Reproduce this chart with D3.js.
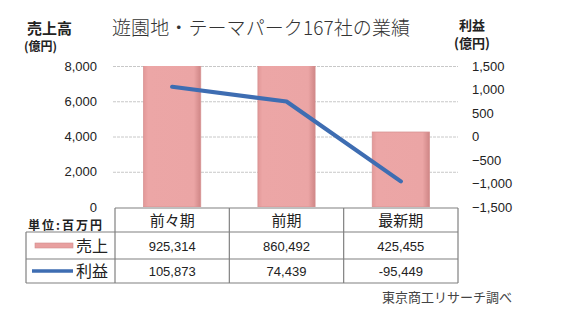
<!DOCTYPE html>
<html><head><meta charset="utf-8">
<script src="https://cdn.jsdelivr.net/npm/d3@7"></script>
<style>
body{margin:0;background:#fff;}
text{font-family:"Noto Sans CJK JP","Noto Sans",sans-serif;}
</style></head>
<body><svg id="c" width="562" height="336"></svg>
<script>
// ---- data ----
const title = "遊園地・テーマパーク167社の業績";
const categories = ["前々期", "前期", "最新期"];
const salesMillion = [925314, 860492, 425455];   // 百万円
const profitMillion = [105873, 74439, -95449];   // 百万円
const leftTicks = [0, 2000, 4000, 6000, 8000];
const rightTicks = [-1500, -1000, -500, 0, 500, 1000, 1500];
const seriesNames = ["売上", "利益"];
const unitLabel = "単位:百万円";
const sourceLabel = "東京商工リサーチ調べ";

const svg = d3.select("#c");
const X0 = 115, X1 = 458, Y0 = 207, Y1 = 66;

const x = d3.scaleBand().domain(categories).range([X0, X1]).paddingInner(0.5).paddingOuter(0.25);
const yL = d3.scaleLinear().domain([0, 8000]).range([Y0, Y1]);
const yR = d3.scaleLinear().domain([-1500, 1500]).range([Y0, Y1]);

const defs = svg.append("defs");
defs.append("clipPath").attr("id", "plot").append("rect")
  .attr("x", X0 - 5).attr("y", Y1).attr("width", X1 - X0 + 10).attr("height", Y0 - Y1);
const g1 = defs.append("linearGradient").attr("id", "barg").attr("x1", 0).attr("x2", 1).attr("y1", 0).attr("y2", 0);
g1.append("stop").attr("offset", "0%").attr("stop-color", "#e29898");
g1.append("stop").attr("offset", "8%").attr("stop-color", "#eca6a6");
g1.append("stop").attr("offset", "88%").attr("stop-color", "#eba5a5");
g1.append("stop").attr("offset", "100%").attr("stop-color", "#cf8686");

// gridlines
svg.append("g").selectAll("line").data(leftTicks.filter(d => d > 0)).join("line")
  .attr("x1", X0 - 2).attr("x2", X1).attr("y1", d => yL(d) + 0.5).attr("y2", d => yL(d) + 0.5)
  .attr("stroke", "#c8c8c8").attr("stroke-width", 1).attr("stroke-dasharray", "3,1");

// bars
svg.append("g").attr("clip-path", "url(#plot)").selectAll("rect").data(categories).join("rect")
  .attr("x", d => x(d)).attr("width", x.bandwidth())
  .attr("y", (d, i) => yL(salesMillion[i] / 100))
  .attr("height", (d, i) => Y0 - yL(salesMillion[i] / 100))
  .attr("fill", "url(#barg)").attr("stroke", "#d79292").attr("stroke-width", 0.8);

// profit line
const line = d3.line().x((d, i) => x(categories[i]) + x.bandwidth() / 2).y(d => yR(d / 100));
svg.append("path").datum(profitMillion).attr("d", line)
  .attr("fill", "none").attr("stroke", "#3e6db2").attr("stroke-width", 4.2)
  .attr("stroke-linecap", "round").attr("stroke-linejoin", "round");

// axes
const fmt = d3.format(",");
const axL = svg.append("g").attr("transform", `translate(${X0},0)`)
  .call(d3.axisLeft(yL).tickValues(leftTicks).tickSize(0).tickPadding(18).tickFormat(fmt));
const axR = svg.append("g").attr("transform", `translate(${X1},0)`)
  .call(d3.axisRight(yR).tickValues(rightTicks).tickSize(0).tickPadding(14).tickFormat(fmt));
[axL, axR].forEach(a => {
  a.select(".domain").remove();
  a.selectAll("text").attr("font-size", 13).attr("fill", "#222")
    .style("font-family", "'Liberation Sans',Arial,sans-serif");
});

// titles
svg.append("text").attr("x", 112).attr("y", 35).attr("font-size", 19).attr("fill", "#333")
  .attr("font-weight", 300).attr("textLength", 298).text(title);
svg.append("text").attr("x", 27).attr("y", 34).attr("font-size", 15).attr("font-weight", 700)
  .attr("fill", "#222").text("売上高");
svg.append("text").attr("x", 24).attr("y", 51).attr("font-size", 12).attr("font-weight", 700)
  .attr("fill", "#222").text("(億円)");
svg.append("text").attr("x", 472).attr("y", 30).attr("font-size", 13).attr("font-weight", 700)
  .attr("fill", "#222").attr("text-anchor", "middle").text("利益");
svg.append("text").attr("x", 472).attr("y", 48).attr("font-size", 13).attr("font-weight", 700)
  .attr("fill", "#222").attr("text-anchor", "middle").text("(億円)");

// table
const rowY = [208, 232, 259, 283];
const TL = 26;
const colEdges = categories.map((c, i) => X0 + i * x.step()).concat([X1]);
const tg = svg.append("g").attr("stroke", "#808080").attr("stroke-width", 1.2).attr("fill", "none");
tg.append("line").attr("x1", X0).attr("x2", X1).attr("y1", rowY[0]).attr("y2", rowY[0]);
[1, 2, 3].forEach(r => tg.append("line").attr("x1", TL).attr("x2", X1).attr("y1", rowY[r]).attr("y2", rowY[r]));
colEdges.forEach(xx => tg.append("line").attr("x1", xx).attr("x2", xx).attr("y1", rowY[0]).attr("y2", rowY[3]));
tg.append("line").attr("x1", TL).attr("x2", TL).attr("y1", rowY[1]).attr("y2", rowY[3]);

// header text
svg.append("g").selectAll("text").data(categories).join("text")
  .attr("x", d => x(d) + x.bandwidth() / 2).attr("y", 226).attr("text-anchor", "middle")
  .attr("font-size", 15).attr("fill", "#222").text(d => d);
svg.append("text").attr("x", 28).attr("y", 230).attr("font-size", 12).attr("font-weight", 700)
  .attr("fill", "#222").attr("textLength", 74).text(unitLabel);

// rows
const rows = [salesMillion, profitMillion];
const tfmt = d3.format(",");
rows.forEach((vals, r) => {
  const cy = (rowY[r + 1] + rowY[r + 2]) / 2;
  svg.append("g").selectAll("text").data(vals).join("text")
    .attr("x", (d, i) => x(categories[i]) + x.bandwidth() / 2).attr("y", cy + 5)
    .attr("text-anchor", "middle").attr("font-size", 13).attr("fill", "#222")
    .style("font-family", "'Liberation Sans',Arial,sans-serif")
    .text(d => tfmt(d).replace("−", "-"));
  svg.append("text").attr("x", 108).attr("y", cy + 6).attr("text-anchor", "end")
    .attr("font-size", 16).attr("fill", "#222").text(seriesNames[r]);
});
// legend swatches
const sy = (rowY[1] + rowY[2]) / 2;
svg.append("rect").attr("x", 35).attr("y", sy - 2.5).attr("width", 38).attr("height", 5)
  .attr("fill", "#e8a0a0").attr("stroke", "#d08c8c").attr("stroke-width", 0.6);
const ly = (rowY[2] + rowY[3]) / 2;
svg.append("line").attr("x1", 32).attr("x2", 73).attr("y1", ly).attr("y2", ly)
  .attr("stroke", "#3e6db2").attr("stroke-width", 3.5);

// source
svg.append("text").attr("x", 512).attr("y", 302).attr("text-anchor", "end")
  .attr("font-size", 13).attr("fill", "#444").text(sourceLabel);
</script></body></html>
